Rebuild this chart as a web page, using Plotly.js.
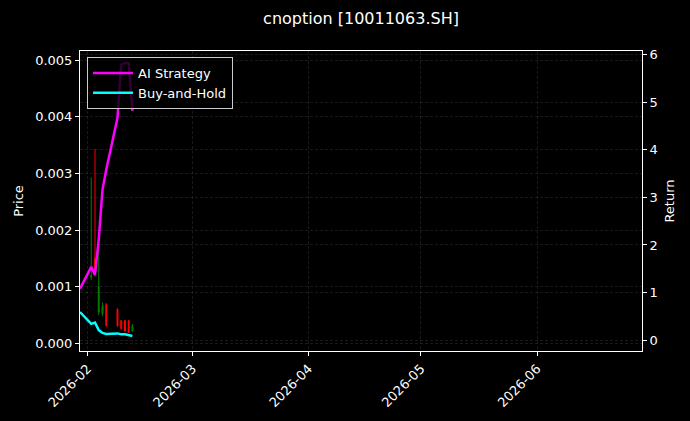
<!DOCTYPE html>
<html>
<head>
<meta charset="utf-8">
<script src="https://cdn.plot.ly/plotly-3.0.1.min.js"></script>
<style>
  html, body { margin: 0; padding: 0; background: #000; }
  #chart { width: 690px; height: 421px; }
</style>
</head>
<body>
<div id="chart"></div>
<script>
// return curves (right axis)
const retDates = ['2026-01-30', '2026-02-02', '2026-02-03', '2026-02-04', '2026-02-05', '2026-02-06',
                  '2026-02-09', '2026-02-10', '2026-02-11', '2026-02-12', '2026-02-13'];
const aiReturn = [1.08, 1.54, 1.37, 2.11, 3.16, 3.58, 4.67, 5.79, 5.83, 5.83, 4.82];
const bhReturn = [0.59, 0.34, 0.37, 0.21, 0.15, 0.13, 0.14, 0.12, 0.12, 0.105, 0.085];

// daily candles (left axis)
const candleDates = ['2026-02-02', '2026-02-03', '2026-02-04', '2026-02-05', '2026-02-06',
                     '2026-02-09', '2026-02-10', '2026-02-11', '2026-02-12', '2026-02-13'];
const openPx  = [0.00116, 0.00150, 0.00055, 0.00052, 0.00068, 0.00060, 0.00040, 0.00040, 0.00040, 0.00022];
const highPx  = [0.00293, 0.00343, 0.00175, 0.00072, 0.00071, 0.00062, 0.00041, 0.00041, 0.00041, 0.00034];
const lowPx   = [0.00112, 0.00118, 0.00050, 0.00048, 0.00029, 0.00029, 0.00024, 0.00020, 0.00018, 0.00020];
const closePx = [0.00120, 0.00128, 0.00100, 0.00065, 0.00032, 0.00031, 0.00026, 0.00022, 0.00020, 0.00030];

const font = { family: 'DejaVu Sans', color: '#ffffff', size: 13 };
const gridStyle = { showgrid: true, gridcolor: 'rgba(140,140,140,0.3)', gridwidth: 0.6, griddash: '3px,2px' };

const candles = {
  x: candleDates,
  open: openPx,
  high: highPx,
  low: lowPx,
  close: closePx,
  type: 'candlestick',
  yaxis: 'y',
  increasing: { line: { color: '#008000', width: 1 }, fillcolor: '#008000' },
  decreasing: { line: { color: '#ff0000', width: 1 }, fillcolor: '#ff0000' },
  showlegend: false,
  hoverinfo: 'skip'
};

const aiLine = {
  x: retDates,
  y: aiReturn,
  mode: 'lines',
  type: 'scatter',
  yaxis: 'y2',
  name: 'AI Strategy',
  line: { color: '#ff00ff', width: 2.5 }
};

const bhLine = {
  x: retDates,
  y: bhReturn,
  mode: 'lines',
  type: 'scatter',
  yaxis: 'y2',
  name: 'Buy-and-Hold',
  line: { color: '#00ffff', width: 2.5 }
};

const layout = {
  width: 690,
  height: 421,
  paper_bgcolor: '#000000',
  plot_bgcolor: '#000000',
  font: font,
  margin: { l: 80, r: 48, t: 51, b: 70 },
  boxgap: 0.65,
  title: {
    text: 'cnoption [10011063.SH]',
    font: { family: 'DejaVu Sans', color: '#ffffff', size: 16 },
    x: 0.5, xref: 'paper', xanchor: 'center',
    y: 1 - 18 / 421, yref: 'container', yanchor: 'middle'
  },
  xaxis: {
    ...gridStyle,
    type: 'date',
    range: ['2026-01-30', '2026-06-29'],
    dtick: 'M1',
    tick0: '2026-02-01',
    tickformat: '%Y-%m',
    tickangle: -45,
    ticks: 'outside', ticklen: 4, tickcolor: '#ffffff',
    showline: true, linecolor: '#ffffff', linewidth: 1, mirror: true,
    zeroline: false,
    rangeslider: { visible: false },
    tickfont: font
  },
  yaxis: {
    ...gridStyle,
    range: [-0.000136, 0.00516],
    dtick: 0.001,
    tickformat: '.3f',
    ticks: 'outside', ticklen: 4, tickcolor: '#ffffff',
    showline: true, linecolor: '#ffffff', linewidth: 1, mirror: true,
    zeroline: false,
    title: { text: 'Price', font: font, standoff: 8 },
    tickfont: font
  },
  yaxis2: {
    ...gridStyle,
    overlaying: 'y',
    side: 'right',
    range: [-0.23, 6.08],
    dtick: 1,
    ticks: 'outside', ticklen: 4, tickcolor: '#ffffff',
    showline: true, linecolor: '#ffffff', linewidth: 1,
    zeroline: false,
    title: { text: 'Return', font: font, standoff: 8 },
    tickfont: font
  },
  legend: {
    x: 0.0125, y: 0.98, xanchor: 'left', yanchor: 'top',
    bgcolor: 'rgba(0,0,0,0.8)',
    bordercolor: '#cccccc',
    borderwidth: 1,
    itemwidth: 40,
    tracegroupgap: 2,
    font: font
  },
  showlegend: true
};

Plotly.newPlot('chart', [candles, aiLine, bhLine], layout, { displayModeBar: false, staticPlot: true });
</script>
</body>
</html>
